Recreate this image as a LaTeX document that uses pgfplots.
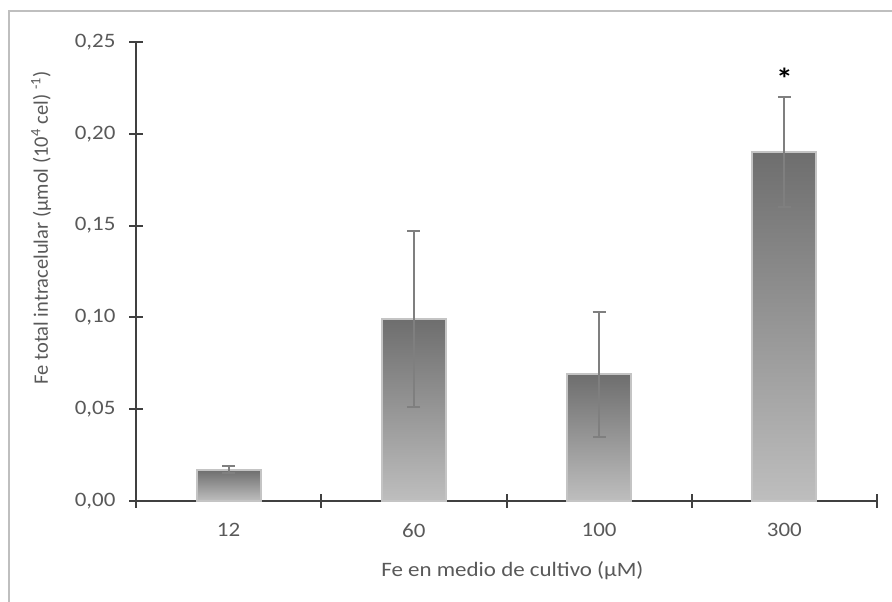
\documentclass[border=0pt]{standalone}
\usepackage{pgfplots}
\pgfplotsset{compat=1.18}
\usepackage{fontspec}
\setmainfont{Carlito}[FakeStretch=1.12]
\newfontfamily\ylabfont{Carlito}
\definecolor{txt}{HTML}{595959}
\definecolor{axc}{HTML}{404040}
\definecolor{framec}{HTML}{BFBFBF}
\definecolor{bartop}{HTML}{6E6E6E}
\definecolor{barbot}{HTML}{BEBEBE}
\definecolor{baredge}{HTML}{C4C4C4}
\definecolor{errc}{HTML}{7F7F7F}
\pgfplotsset{
  mybar/.style={ybar, bar width=0.345, bar shift=0, draw=baredge, line width=2bp,
    top color=bartop, bottom color=barbot,
    error bars/.cd, y dir=both, y explicit,
    error bar style={errc, line width=2bp},
    error mark options={errc, rotate=90, mark size=6.5bp, line width=2bp}},
}
\begin{document}
\begin{tikzpicture}[x=1bp,y=1bp]
\useasboundingbox (0,0) rectangle (892,602);
\draw[framec, line width=1.5bp] (9,0) -- (9,591) -- (892,591);
\begin{axis}[
  at={(136bp,101bp)}, anchor=south west,
  scale only axis, width=741bp, height=459bp,
  xmin=-0.5, xmax=3.5, ymin=0, ymax=0.25,
  axis x line*=bottom, axis y line*=left,
  axis line style={axc, line width=2bp},
  xtick={0,1,2,3}, xticklabels={12,60,100,300},
  minor xtick={-0.5,0.5,1.5,2.5,3.5},
  major x tick style={draw=none},
  minor x tick style={axc, line width=2bp},
  ytick={0,0.05,0.10,0.15,0.20,0.25},
  y tick style={axc, line width=2bp},
  tick align=center, major tick length=14bp, minor tick length=14bp,
  scaled y ticks=false,
  yticklabel style={xshift=-10bp, /pgf/number format/.cd, fixed, fixed zerofill, precision=2, use comma, assume math mode=true},
  xticklabel style={yshift=-12bp},
  tick label style={font=\fontsize{20.5bp}{24bp}\selectfont, text=txt},
  xlabel={Fe en medio de cultivo (µM)},
  ylabel={\ylabfont Fe total intracelular (µmol (10\textsuperscript{4} cel) \textsuperscript{-1})},
  label style={font=\fontsize{20.5bp}{24bp}\selectfont, text=txt},
  xlabel style={at={(axis description cs:0.508,-0.152)}, anchor=center},
  ylabel style={at={(axis description cs:-0.128,0.595)}, anchor=center},
  clip=false,
]
\addplot[mybar] coordinates {(0,0.017) +- (0,0.002)};
\addplot[mybar] coordinates {(1,0.099) +- (0,0.048)};
\addplot[mybar] coordinates {(2,0.069) +- (0,0.034)};
\addplot[mybar] coordinates {(3,0.190) +- (0,0.030)};
\node[font=\fontsize{30bp}{32bp}\selectfont\bfseries, text=black] at (axis cs:3,0.230) {*};
\end{axis}
\end{tikzpicture}
\end{document}
